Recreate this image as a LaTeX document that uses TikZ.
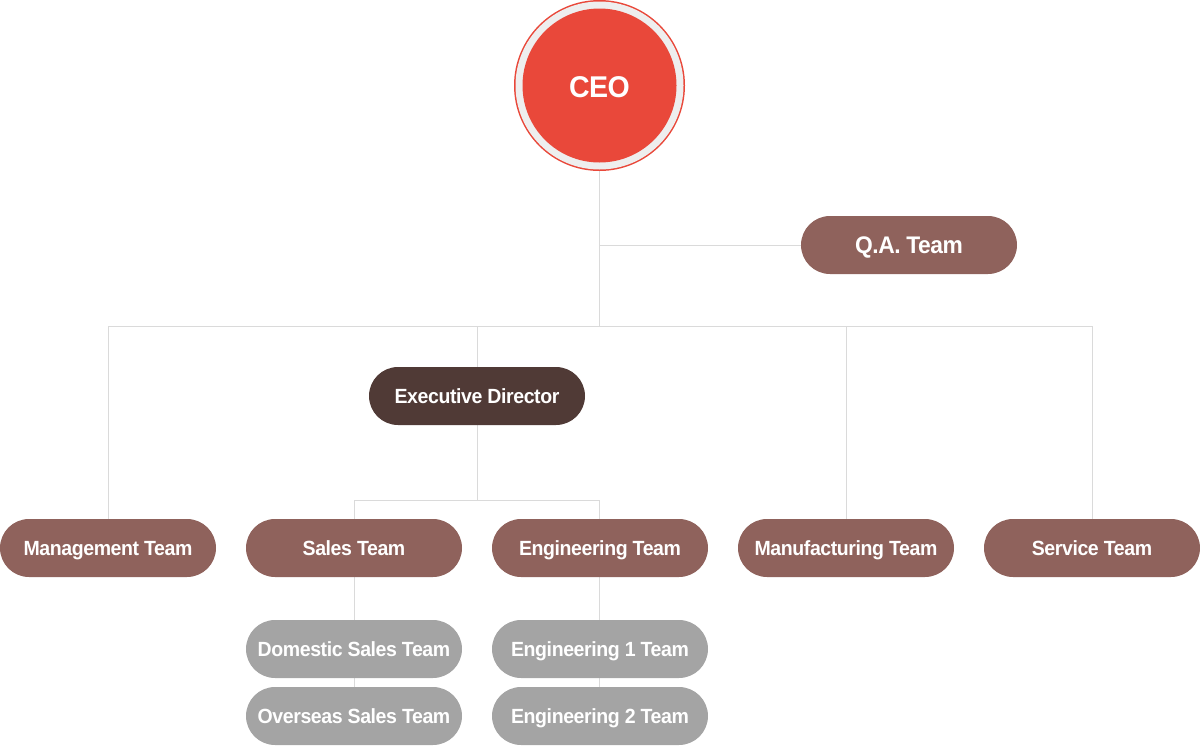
\documentclass[tikz,border=0pt]{standalone}
\usepackage{fontspec}
\setmainfont{Liberation Sans}
\newfontfamily\pillfont[LetterSpace=-2,FakeStretch=0.95]{Liberation Sans}
\usetikzlibrary{backgrounds}
\definecolor{ceored}{HTML}{E9483A}
\definecolor{ringgray}{HTML}{EEEEEE}
\definecolor{teambrown}{HTML}{8F625C}
\definecolor{darkbrown}{HTML}{503A36}
\definecolor{subgray}{HTML}{A4A4A4}
\definecolor{linegray}{HTML}{DADADA}
\begin{document}
\begin{tikzpicture}[x=0.75pt,y=-0.75pt,
  pill/.style={rectangle,rounded corners=21.75pt,minimum width=162pt,minimum height=43.5pt,
    inner sep=0pt,text=white,text height=11pt,text depth=0pt,
    font=\pillfont\fontsize{15.4pt}{17pt}\selectfont\bfseries},
  teampill/.style={pill,fill=teambrown},
  execpill/.style={pill,fill=darkbrown},
  subpill/.style={pill,fill=subgray},
  qapill/.style={pill,fill=teambrown,text height=12.9pt,
    font=\pillfont\fontsize{18pt}{20pt}\selectfont\bfseries},
  link/.style={draw=linegray,line width=0.75pt}]
\useasboundingbox (0,0) rectangle (1200,747);
% CEO
\fill[ceored] (599.5,85.5) circle (85.5*0.75pt);
\fill[ringgray] (599.5,85.5) circle (84*0.75pt);
\fill[ceored] (599.5,85.5) circle (77*0.75pt);
\node[circle,minimum size=128pt,inner sep=0pt,text=white,text height=16.1pt,text depth=0pt,
  font=\pillfont\fontsize{22.5pt}{25pt}\selectfont\bfseries] (ceo) at (599.5,86.3) {CEO};
% nodes
\node[qapill] (qa) at (909,245) {Q.A. Team};
\node[execpill] (exec) at (477,396) {Executive Director};
\node[teampill] (mgmt) at (108,548) {Management Team};
\node[teampill] (sales) at (354,548) {Sales Team};
\node[teampill] (eng) at (600,548) {Engineering Team};
\node[teampill] (manu) at (846,548) {Manufacturing Team};
\node[teampill] (serv) at (1092,548) {Service Team};
\node[subpill] (dom) at (354,649) {Domestic Sales Team};
\node[subpill] (ovs) at (354,716) {Overseas Sales Team};
\node[subpill] (eng1) at (600,649) {Engineering 1 Team};
\node[subpill] (eng2) at (600,716) {Engineering 2 Team};
% junctions
\coordinate (jq) at (599,245);
\coordinate (jm) at (599,326);
\coordinate (jl) at (108,326);
\coordinate (jx) at (477,326);
\coordinate (jf) at (846,326);
\coordinate (jr) at (1092,326);
\coordinate (je) at (477,500);
\coordinate (jsl) at (354,500);
\coordinate (jsr) at (599,500);
\begin{scope}[on background layer]
\draw[link] (599,170) -- (jm);
\draw[link] (jq) -- (qa.west);
\draw[link] (jl) -- (jr);
\draw[link] (jl) -- (mgmt.north);
\draw[link] (jx) -- (exec.north);
\draw[link] (jf) -- (manu.north);
\draw[link] (jr) -- (serv.north);
\draw[link] (exec.south) -- (je);
\draw[link] (jsl) -- (jsr);
\draw[link] (jsl) -- (sales.north);
\draw[link] (jsr) -- (599,519);
\draw[link] (sales.south) -- (ovs.north);
\draw[link] (599,577) -- (599,687);
\end{scope}
\end{tikzpicture}
\end{document}
